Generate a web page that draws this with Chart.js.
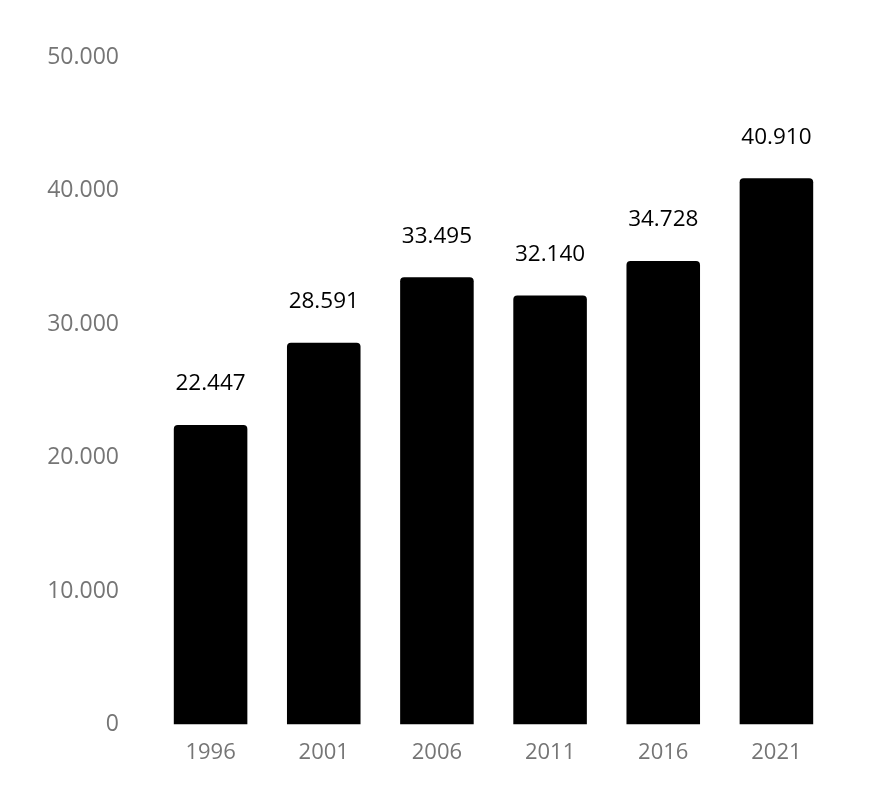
<!DOCTYPE html>
<html>
<head>
<meta charset="utf-8">
<script src="https://cdn.jsdelivr.net/npm/chart.js@4"></script>
<style>
  html, body { margin: 0; padding: 0; background: #fff; }
  #wrap { width: 894px; height: 808px; }
</style>
</head>
<body>
<div id="wrap"><canvas id="myChart"></canvas></div>
<script>
const years = ['1996', '2001', '2006', '2011', '2016', '2021'];
const values = [22447, 28591, 33495, 32140, 34728, 40910];
const yTicks = [0, 10000, 20000, 30000, 40000, 50000];

const FONT = '"Open Sans", Roboto, sans-serif';

// punto como separador de miles
let fmt = (v) => String(v).replace(/\B(?=(\d{3})+(?!\d))/g, '.');

// etiquetas encima de las barras
const valueLabels = {
  id: 'valueLabels',
  afterDatasetsDraw(chart) {
    const ctx = chart.ctx;
    const meta = chart.getDatasetMeta(0);
    ctx.save();
    ctx.font = '22.5px ' + FONT;
    ctx.fillStyle = '#000';
    ctx.textAlign = 'center';
    ctx.textBaseline = 'middle';
    meta.data.forEach((bar, i) => {
      ctx.fillText(fmt(values[i]), bar.x, bar.y - 41);
    });
    ctx.restore();
  }
};

const ctx = document.getElementById('myChart');
const chart = new Chart(ctx, {
  type: 'bar',
  data: {
    labels: years,
    datasets: [{
      data: values,
      backgroundColor: '#000',
      borderRadius: 4,
      borderSkipped: 'start',
      barPercentage: 0.65,
      categoryPercentage: 1
    }]
  },
  options: {
    responsive: true,
    maintainAspectRatio: false,
    animation: false,
    layout: { padding: { top: 57, right: 61, left: 0, bottom: 27 } },
    plugins: { legend: { display: false }, tooltip: { enabled: false } },
    scales: {
      x: {
        grid: { display: false, drawTicks: false },
        border: { display: false },
        ticks: { color: '#757575', font: { family: FONT, size: 22 }, padding: 15 }
      },
      y: {
        min: 0,
        max: 50000,
        afterBuildTicks: (axis) => { axis.ticks = yTicks.map(v => ({ value: v })); },
        afterFit: (axis) => { axis.width = 154; },
        grid: { display: false, drawTicks: false },
        border: { display: false },
        ticks: {
          color: '#757575',
          font: { family: FONT, size: 23 },
          padding: 35,
          callback: (v) => fmt(v)
        }
      }
    }
  },
  plugins: [valueLabels]
});
</script>
</body>
</html>
